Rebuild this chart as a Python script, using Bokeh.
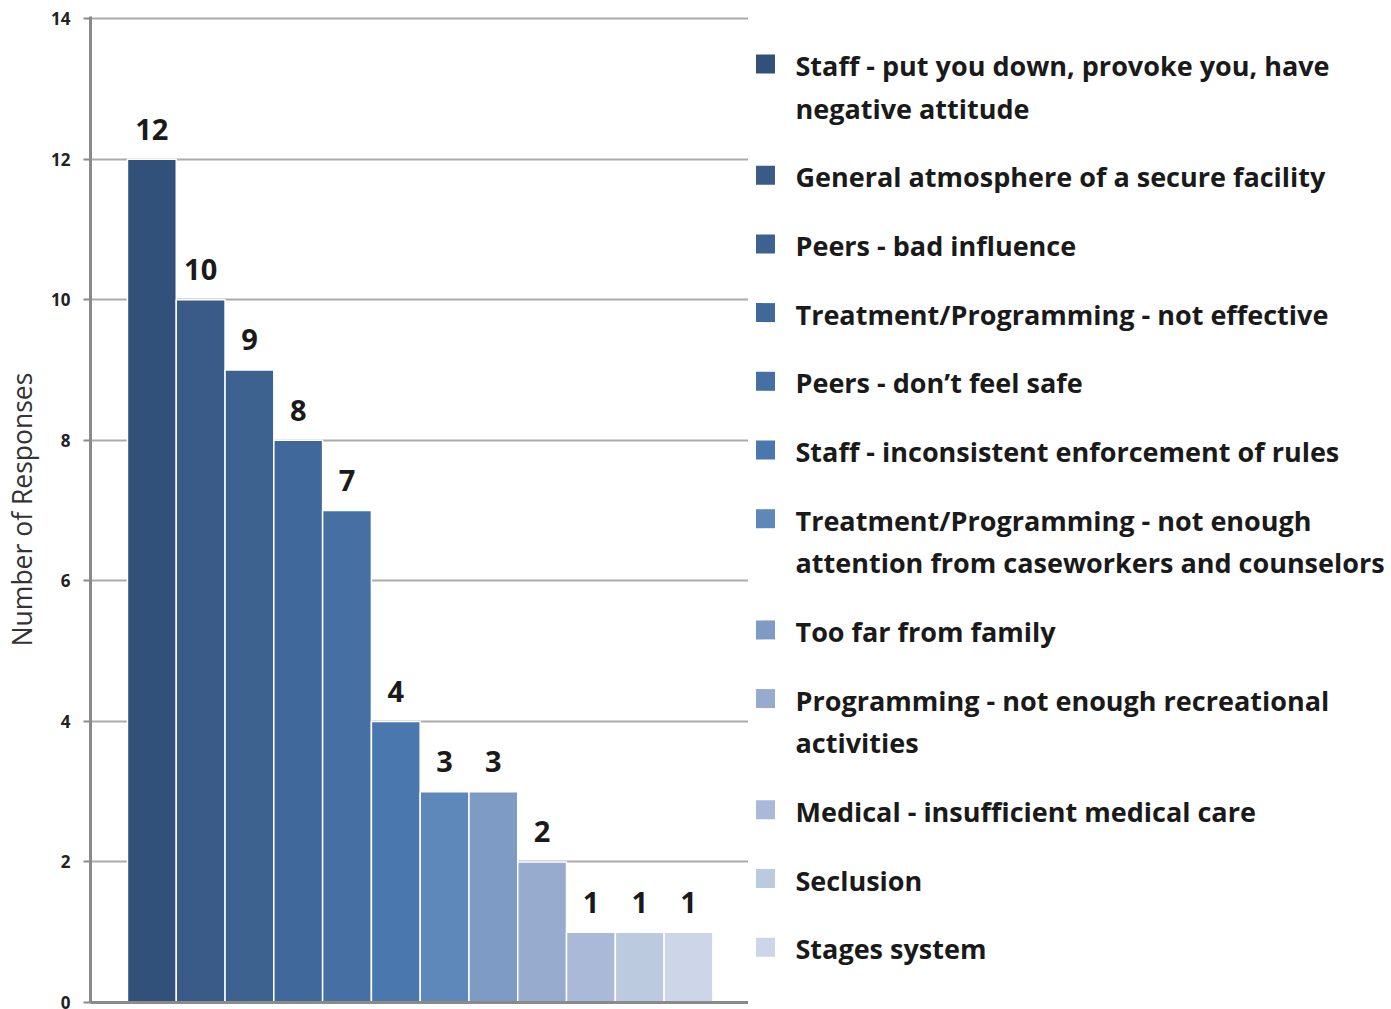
from bokeh.plotting import figure
from bokeh.models import Range1d, ColumnDataSource, FixedTicker
from bokeh.layouts import row
from bokeh.embed import file_html
from bokeh.resources import INLINE
from bokeh.core.properties import value

labels = [
    "Staff - put you down, provoke you, have\nnegative attitude",
    "General atmosphere of a secure facility",
    "Peers - bad influence",
    "Treatment/Programming - not effective",
    "Peers - don\u2019t feel safe",
    "Staff - inconsistent enforcement of rules",
    "Treatment/Programming - not enough\nattention from caseworkers and counselors",
    "Too far from family",
    "Programming - not enough recreational\nactivities",
    "Medical - insufficient medical care",
    "Seclusion",
    "Stages system",
]
counts = [12, 10, 9, 8, 7, 4, 3, 3, 2, 1, 1, 1]
colors = ["#31517a", "#3a5a87", "#3e6290", "#41689a", "#4670a3", "#4a78ae",
          "#5e87ba", "#7e9bc5", "#97abcf", "#a9b9d7", "#bccae0", "#ccd6e8"]
y_ticks = [0, 2, 4, 6, 8, 10, 12, 14]
y_label = "Number of Responses"

FONT = "Open Sans"
TXT = "#1a1a1a"

xs = list(range(len(counts)))
src = ColumnDataSource(dict(x=xs, top=counts, color=colors,
                            lab=[str(c) for c in counts]))

H = 1009
BT, BB = 16, 7
W1 = 748
p = figure(width=W1, height=H, output_backend="svg", toolbar_location=None,
           title=None,
           x_range=Range1d(-1.258, 12.23), y_range=Range1d(0, 14.03),
           min_border_left=90, min_border_right=0, min_border_top=BT,
           min_border_bottom=BB)
p.outline_line_color = None
p.vbar(x="x", top="top", width=1.0, bottom=0, fill_color="color",
       line_color="white", line_width=1.5, source=src)
p.text(x="x", y="top", text="lab", source=src, text_align="center",
       text_baseline="middle", y_offset=-30, text_font=value(FONT),
       text_font_style="bold", text_font_size="29px", text_color=TXT)

p.xgrid.visible = False
p.ygrid.ticker = FixedTicker(ticks=y_ticks)
p.ygrid.grid_line_color = "#ababab"
p.ygrid.grid_line_width = 2

p.xaxis.ticker = FixedTicker(ticks=[])
p.xaxis.major_tick_out = 0
p.xaxis.major_tick_in = 0
p.xaxis.minor_tick_out = 0
p.xaxis.major_label_text_font_size = "0px"
p.xaxis.major_label_standoff = 0
p.xaxis.axis_line_color = "#8a8a8a"
p.xaxis.axis_line_width = 3

p.yaxis.ticker = FixedTicker(ticks=y_ticks)
p.yaxis.axis_line_color = "#8a8a8a"
p.yaxis.axis_line_width = 3
p.yaxis.major_tick_line_color = "#8a8a8a"
p.yaxis.major_tick_line_width = 2
p.yaxis.major_tick_out = 7
p.yaxis.major_tick_in = 0
p.yaxis.minor_tick_out = 0
p.yaxis.minor_tick_in = 0
p.yaxis.major_label_text_font = FONT
p.yaxis.major_label_text_font_style = "bold"
p.yaxis.major_label_text_font_size = "17px"
p.yaxis.major_label_text_color = "#222222"
p.yaxis.major_label_standoff = 13
p.yaxis.axis_label = y_label
p.yaxis.axis_label_text_font = FONT
p.yaxis.axis_label_text_font_style = "normal"
p.yaxis.axis_label_text_font_size = "26.5px"
p.yaxis.axis_label_text_color = "#333333"
p.yaxis.axis_label_standoff = 8

# legend panel (frame aligned with the chart frame; y in page pixels)
LW = 640
lg = figure(width=LW, height=H, output_backend="svg", toolbar_location=None,
            title=None, x_range=Range1d(0, LW), y_range=Range1d(H - BB, BT),
            min_border_left=0, min_border_right=0,
            min_border_top=BT, min_border_bottom=BB)
lg.outline_line_color = None
lg.axis.visible = False
lg.grid.visible = False

sq_x, sq_y, sq_c = [], [], []
tx, ty, tt = [], [], []
y = 63.5
for lab, col in zip(labels, colors):
    lines = lab.split("\n")
    sq_x.append(17)
    sq_y.append(y)
    sq_c.append(col)
    for k, ln in enumerate(lines):
        tx.append(47)
        ty.append(y + 1.5 + 42.5 * k)
        tt.append(ln)
    y += 68.7 + 42.5 * (len(lines) - 1)

lg.rect(x=sq_x, y=sq_y, width=19, height=19, fill_color=sq_c, line_color=None)
lg.text(x=tx, y=ty, text=tt, text_align="left", text_baseline="middle",
        text_font=value(FONT), text_font_style="bold", text_font_size="27px",
        text_color=TXT)

layout = row(p, lg)
open("out.html", "w").write(file_html(layout, INLINE))
